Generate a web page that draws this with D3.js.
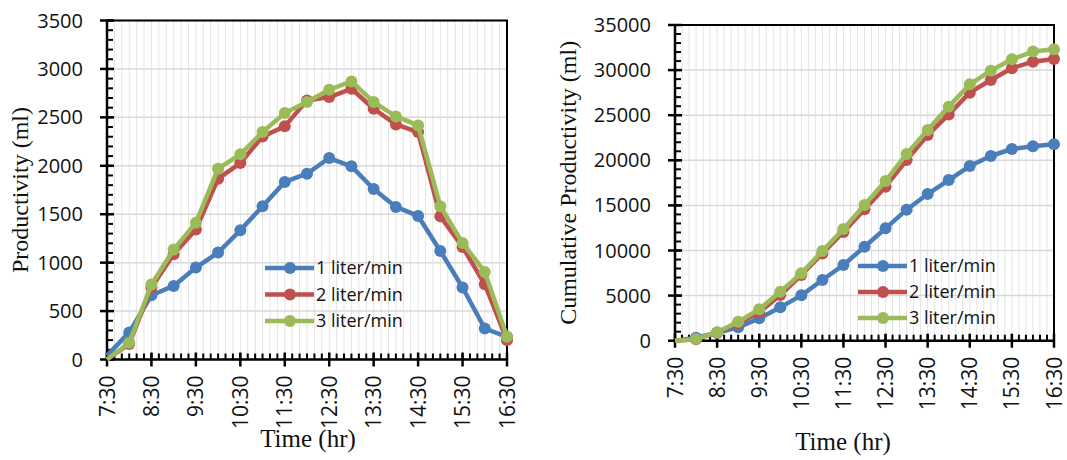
<!DOCTYPE html>
<html>
<head>
<meta charset="utf-8">
<script src="https://cdn.jsdelivr.net/npm/d3@7"></script>
<style>
  body { margin: 0; background: #fff; }
  svg { display: block; }
</style>
</head>
<body>
<svg id="chart" width="1067" height="460"></svg>
<script>
// data -------------------------------------------------------------------
const times = ["7:30","8:00","8:30","9:00","9:30","10:00","10:30","11:00","11:30","12:00",
  "12:30","13:00","13:30","14:00","14:30","15:00","15:30","16:00","16:30"];
const hourLabels = ["7:30","8:30","9:30","10:30","11:30","12:30","13:30","14:30","15:30","16:30"];
const seriesNames = ["1 liter/min", "2 liter/min", "3 liter/min"];
const seriesColors = ["#4a7ebb", "#c0504d", "#9bbb59"];

// hourly productivity (ml)
const prod1 = [40, 280, 663, 760, 949, 1104, 1334, 1582, 1833, 1918, 2080, 1994, 1760, 1575, 1482, 1121, 743, 320, 234];
const prod2 = [0, 160, 743, 1086, 1341, 1867, 2028, 2303, 2407, 2675, 2709, 2795, 2589, 2427, 2348, 1478, 1162, 777, 200];
const prod3 = [0, 173, 774, 1135, 1413, 1970, 2118, 2348, 2544, 2658, 2785, 2871, 2658, 2510, 2417, 1582, 1204, 904, 234];

// cumulative productivity (ml)
const cum1 = [0, 330, 887, 1478, 2476, 3696, 5026, 6726, 8390, 10422, 12455, 14525, 16262, 17815, 19367, 20476, 21252, 21548, 21770];
const cum2 = [0, 170, 890, 1920, 3140, 5060, 7280, 9680, 12050, 14560, 17080, 20030, 22800, 25090, 27500, 28900, 30200, 30930, 31230];
const cum3 = [0, 175, 940, 2107, 3474, 5430, 7466, 9940, 12380, 15040, 17700, 20700, 23360, 25950, 28420, 29940, 31200, 32050, 32300];

const leftYTicks = [0, 500, 1000, 1500, 2000, 2500, 3000, 3500];
const rightYTicks = [0, 5000, 10000, 15000, 20000, 25000, 30000, 35000];

const toHours = s => { const p = s.split(":"); return +p[0] + (+p[1]) / 60; };

const svg = d3.select("#chart");

// panel drawing ----------------------------------------------------------
function drawPanel(cfg) {
  const { left, right, top, bottom, yTicks, series, yTitle, yTitleX, xTitleX, xTitleY, legend } = cfg;
  const x = d3.scaleLinear().domain([7.5, 16.5]).range([left, right]);
  const yMax = yTicks[yTicks.length - 1];
  const y = d3.scaleLinear().domain([0, yMax]).range([bottom, top]);
  const step = yTicks[1] - yTicks[0];

  const g = svg.append("g");

  // vertical grid every 10 min
  const minorX = d3.range(0, 55).map(i => 7.5 + i / 6);
  g.append("g").selectAll("line").data(minorX).enter().append("line")
    .attr("x1", d => x(d)).attr("x2", d => x(d))
    .attr("y1", top).attr("y2", bottom)
    .attr("stroke", "#e4e4e4").attr("stroke-width", 1);
  // horizontal grid at major ticks
  g.append("g").selectAll("line").data(yTicks).enter().append("line")
    .attr("x1", left).attr("x2", right)
    .attr("y1", d => y(d)).attr("y2", d => y(d))
    .attr("stroke", "#d9d9d9").attr("stroke-width", 1.5);

  // frame top/right
  g.append("path")
    .attr("d", `M${left},${top}H${right}V${bottom}`)
    .attr("fill", "none").attr("stroke", "#000").attr("stroke-width", 2);

  // minor ticks (inside)
  const minorY = d3.range(0, yMax + 1, step / 5);
  g.append("g").selectAll("line").data(minorY).enter().append("line")
    .attr("x1", left).attr("x2", left + 6)
    .attr("y1", d => y(d)).attr("y2", d => y(d))
    .attr("stroke", "#000").attr("stroke-width", 2);
  g.append("g").selectAll("line").data(minorX).enter().append("line")
    .attr("x1", d => x(d)).attr("x2", d => x(d))
    .attr("y1", bottom).attr("y2", bottom - 6)
    .attr("stroke", "#000").attr("stroke-width", 2);
  // major ticks (cross)
  g.append("g").selectAll("line").data(yTicks).enter().append("line")
    .attr("x1", left - 7).attr("x2", left + 7)
    .attr("y1", d => y(d)).attr("y2", d => y(d))
    .attr("stroke", "#000").attr("stroke-width", 2.5);
  g.append("g").selectAll("line").data(hourLabels).enter().append("line")
    .attr("x1", d => x(toHours(d))).attr("x2", d => x(toHours(d)))
    .attr("y1", bottom - 7).attr("y2", bottom + 7)
    .attr("stroke", "#000").attr("stroke-width", 2.5);
  // axis lines
  g.append("path")
    .attr("d", `M${left},${top}V${bottom}H${right}`)
    .attr("fill", "none").attr("stroke", "#000").attr("stroke-width", 2.5);

  // y tick labels
  g.append("g").selectAll("text").data(yTicks).enter().append("text")
    .attr("x", left - 24).attr("y", d => y(d))
    .attr("dy", "0.35em")
    .attr("text-anchor", "end")
    .attr("font-family", "'Open Sans', sans-serif").attr("font-size", "20px")
    .attr("fill", "#111")
    .text(d => d);
  // x tick labels (rotated)
  g.append("g").selectAll("text").data(hourLabels).enter().append("text")
    .attr("transform", d => `translate(${x(toHours(d))},${bottom + 16}) rotate(-90)`)
    .attr("dy", "0.36em")
    .attr("text-anchor", "end")
    .attr("font-family", "'Open Sans', sans-serif").attr("font-size", "21px")
    .attr("fill", "#111")
    .text(d => d);

  // titles
  g.append("text")
    .attr("transform", `translate(${yTitleX},${(top + bottom) / 2}) rotate(-90)`)
    .attr("text-anchor", "middle")
    .attr("font-family", "'Liberation Serif', 'Times New Roman', serif").attr("font-size", "24px")
    .attr("fill", "#111")
    .text(yTitle);
  g.append("text")
    .attr("x", xTitleX).attr("y", xTitleY)
    .attr("text-anchor", "middle")
    .attr("font-family", "'Liberation Serif', 'Times New Roman', serif").attr("font-size", "25px")
    .attr("fill", "#111")
    .text("Time (hr)");

  // series
  const line = d3.line().x((d, i) => x(toHours(times[i]))).y(d => y(d));
  series.forEach((vals, si) => {
    g.append("path")
      .datum(vals)
      .attr("d", line)
      .attr("fill", "none")
      .attr("stroke", seriesColors[si])
      .attr("stroke-width", 4.5)
      .attr("stroke-linejoin", "round");
    g.append("g").selectAll("circle").data(vals.slice(1)).enter().append("circle")
      .attr("cx", (d, i) => x(toHours(times[i + 1])))
      .attr("cy", d => y(d))
      .attr("r", 6)
      .attr("fill", seriesColors[si]);
  });

  // legend
  seriesNames.forEach((name, i) => {
    const ly = legend.y + i * legend.gap;
    g.append("line")
      .attr("x1", legend.x).attr("x2", legend.x + 49)
      .attr("y1", ly).attr("y2", ly)
      .attr("stroke", seriesColors[i]).attr("stroke-width", 4.5);
    g.append("circle")
      .attr("cx", legend.x + 25).attr("cy", ly).attr("r", 6)
      .attr("fill", seriesColors[i]);
    g.append("text")
      .attr("x", legend.x + 51).attr("y", ly)
      .attr("dy", "0.35em")
      .attr("font-family", "'Open Sans', sans-serif").attr("font-size", "18px")
      .attr("fill", "#111")
      .text(name);
  });
}

drawPanel({
  left: 107, right: 507, top: 20.5, bottom: 359.5,
  yTicks: leftYTicks,
  series: [prod1, prod2, prod3],
  yTitle: "Productivity (ml)", yTitleX: 28,
  xTitleX: 308, xTitleY: 447,
  legend: { x: 265, y: 268, gap: 26.5 }
});

drawPanel({
  left: 675, right: 1054, top: 25, bottom: 340.7,
  yTicks: rightYTicks,
  series: [cum1, cum2, cum3],
  yTitle: "Cumulative Productivity (ml)", yTitleX: 576,
  xTitleX: 843, xTitleY: 450,
  legend: { x: 858, y: 266, gap: 26 }
});
</script>
</body>
</html>
